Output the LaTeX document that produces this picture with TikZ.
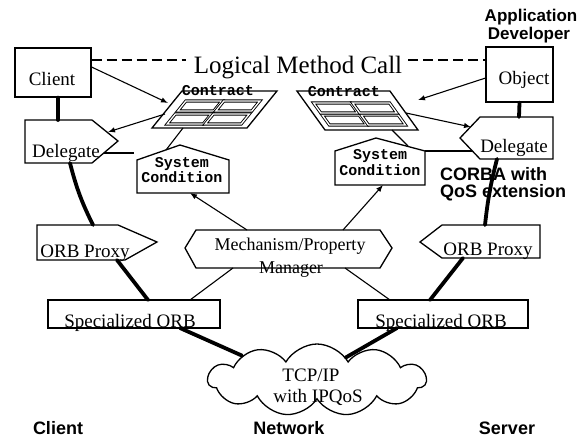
\documentclass[tikz,border=0pt]{standalone}
\usepackage{fontspec}
\setmainfont{Liberation Serif}
\newfontfamily\monof{Liberation Mono}
\newfontfamily\sansf{Liberation Sans}
\usetikzlibrary{shapes.symbols,arrows.meta}
\begin{document}
\begin{tikzpicture}[x=1pt,y=-1pt,
  shp/.style={draw=black, line width=1.3pt, line join=miter},
  conn/.style={line width=1.1pt},
  arr/.style={line width=1.1pt, -{Latex[length=7pt,width=5.5pt]}},
  spine/.style={line width=3.8pt, line cap=round},
  dsh/.style={line width=1.1pt, dash pattern=on 10pt off 5pt},
  serif/.style={inner sep=0pt, font=\fontsize{19}{19}\selectfont, text height=12.6pt, text depth=0pt},
  mmtext/.style={inner sep=0pt, font=\fontsize{18}{18}\selectfont, text height=12pt, text depth=0pt},
  mono/.style={inner sep=0pt, font=\monof\bfseries\fontsize{15}{15}\selectfont, text height=8.6pt, text depth=0pt},
  lab/.style={inner sep=0pt, font=\sansf\bfseries\fontsize{18}{18}\selectfont, text height=12.9pt, text depth=0pt},
  toplab/.style={inner sep=0pt, font=\sansf\bfseries\fontsize{17}{17}\selectfont, text height=12.2pt, text depth=0pt},
  cell/.style={draw=black, line width=0.9pt, double=white, double distance=1.3pt}
]
\useasboundingbox[fill=white] (0,0) rectangle (586,438);

% ---------- top labels
\node[toplab] (appl) at (531,15.5) {Application};
\node[toplab] (dev) at (529,33) {Developer};

% ---------- client / object
\node[shp, minimum width=76pt, minimum height=49pt, inner sep=0pt] (client) at (53,72.5) {};
\node[serif] (clientt) at (52,79) {Client};
\node[shp, minimum width=67pt, minimum height=55pt, inner sep=0pt] (object) at (519.5,74.5) {};
\node[serif] (objectt) at (524,78) {Object};

% ---------- logical method call
\node[inner sep=0pt, font=\fontsize{25}{25}\selectfont, text height=16.5pt, text depth=0pt] (lmc) at (298,65) {Logical Method Call};
\coordinate (dl) at (0,60);
\draw[dsh] (client.east |- dl) -- ([xshift=-8pt]lmc.west |- dl);
\draw[dsh] ([xshift=6pt]lmc.east |- dl) -- (object.west |- dl);

% ---------- delegates
\coordinate (dLa) at (25,120); \coordinate (dLb) at (92,120); \coordinate (dLc) at (118,141);
\coordinate (dLd) at (92,163);  \coordinate (dLe) at (25,163);
\draw[shp] (dLa) -- (dLb) -- (dLc) -- (dLd) -- (dLe) -- cycle;
\node[serif] (dLt) at (66,151) {Delegate};
\coordinate (dL-n) at (58,120); \coordinate (dL-s) at (70,163);
\coordinate (dL-e1) at (108,132); \coordinate (dL-e2) at (104,153);

\coordinate (dRa) at (460,138); \coordinate (dRb) at (480,117); \coordinate (dRc) at (553,117);
\coordinate (dRd) at (553,159); \coordinate (dRe) at (480,159);
\draw[shp] (dRa) -- (dRb) -- (dRc) -- (dRd) -- (dRe) -- cycle;
\node[serif] (dRt) at (514,146) {Delegate};
\coordinate (dR-n) at (519,117); \coordinate (dR-s) at (497,159);
\coordinate (dR-w1) at (471,127); \coordinate (dR-w2) at (472,151);

% ---------- ORB proxies
\coordinate (oLa) at (37,225); \coordinate (oLb) at (118,225); \coordinate (oLc) at (157,242);
\coordinate (oLd) at (125,260); \coordinate (oLe) at (37,260);
\draw[shp] (oLa) -- (oLb) -- (oLc) -- (oLd) -- (oLe) -- cycle;
\node[serif] (oLt) at (85,251) {ORB Proxy};
\coordinate (oL-n) at (93,225); \coordinate (oL-s) at (117,260);

\coordinate (oRa) at (420,242); \coordinate (oRb) at (442,225); \coordinate (oRc) at (540,225);
\coordinate (oRd) at (540,258); \coordinate (oRe) at (442,258);
\draw[shp] (oRa) -- (oRb) -- (oRc) -- (oRd) -- (oRe) -- cycle;
\node[serif] (oRt) at (488,249) {ORB Proxy};
\coordinate (oR-n) at (485,225); \coordinate (oR-s) at (463,258);

% ---------- mechanism / property manager
\coordinate (mA) at (185,248); \coordinate (mB) at (196,230); \coordinate (mC) at (380,230);
\coordinate (mD) at (392,248); \coordinate (mE) at (380,268); \coordinate (mF) at (196,268);
\draw[shp] (mA) -- (mB) -- (mC) -- (mD) -- (mE) -- (mF) -- cycle;
\node[mmtext] (mmt1) at (290,245) {Mechanism/Property};
\node[mmtext] (mmt2) at (291,267) {Manager};
\coordinate (mm-n1) at (247,230); \coordinate (mm-n2) at (343,230);
\coordinate (mm-s1) at (233,268); \coordinate (mm-s2) at (345,268);

% ---------- system conditions
\coordinate (sLa) at (137,193); \coordinate (sLb) at (137,160); \coordinate (sLc) at (180,145);
\coordinate (sLd) at (229,160); \coordinate (sLe) at (229,193);
\draw[shp] (sLa) -- (sLb) -- (sLc) -- (sLd) -- (sLe) -- cycle;
\node[mono] (sLt1) at (182,163) {System};
\node[mono] (sLt2) at (182,178) {Condition};
\coordinate (sL-r) at (166,150); \coordinate (sL-x) at (134,153); \coordinate (sL-s) at (190,193);

\coordinate (sRa) at (335,185); \coordinate (sRb) at (335,151); \coordinate (sRc) at (376,138);
\coordinate (sRd) at (425,151); \coordinate (sRe) at (425,185);
\draw[shp] (sRa) -- (sRb) -- (sRc) -- (sRd) -- (sRe) -- cycle;
\node[mono] (sRt1) at (380,155) {System};
\node[mono] (sRt2) at (380,171) {Condition};
\coordinate (sR-r) at (408,146); \coordinate (sR-s) at (383,185);

% ---------- contracts
\begin{scope}[shift={(152,128)}, xslant=0.81]
  \draw[shp] (0,0) rectangle (95,-37);
  \draw[cell] (12,-4) rectangle (48,-14);
  \draw[cell] (50,-4) rectangle (86,-14);
  \draw[cell] (12,-17) rectangle (48,-27);
  \draw[cell] (50,-17) rectangle (86,-27);
\end{scope}
\node[mono] (kLt) at (218,91.5) {Contract};
\coordinate (kL-w1) at (168,103); \coordinate (kL-w2) at (165,114); \coordinate (kL-s) at (183,128);

\begin{scope}[shift={(325,130)}, xslant=-0.72]
  \draw[shp] (0,0) rectangle (93,-39);
  \draw[cell] (8,-5) rectangle (45,-15);
  \draw[cell] (47,-5) rectangle (84,-15);
  \draw[cell] (8,-17) rectangle (45,-27);
  \draw[cell] (47,-17) rectangle (84,-27);
\end{scope}
\node[mono] (kRt) at (344,92) {Contract};
\coordinate (kR-e1) at (418,100); \coordinate (kR-e2) at (406,113); \coordinate (kR-s) at (392,130);

% ---------- specialized ORBs
\node[shp, minimum width=172pt, minimum height=28pt, inner sep=0pt] (soL) at (134,314) {};
\node[serif] (soLt) at (130,321.5) {Specialized ORB};
\node[shp, minimum width=170pt, minimum height=28pt, inner sep=0pt] (soR) at (443,314) {};
\node[serif] (soRt) at (441,321.5) {Specialized ORB};
\coordinate (soL-n) at (148,300); \coordinate (soL-n2) at (190,300); \coordinate (soL-s) at (180,328);
\coordinate (soR-n) at (430,300); \coordinate (soR-n2) at (390,300); \coordinate (soR-s) at (397,328);

% ---------- cloud
\node[cloud, shp, cloud puffs=11, cloud puff arc=120, aspect=2.9, minimum width=218pt, minimum height=72pt, inner sep=0pt] (net) at (317,380) {};
\node[serif] (tcp) at (311,375) {TCP/IP};
\node[serif] (ipq) at (318,396) {with IPQoS};

% ---------- side labels
\node[lab, anchor=west] (corba1) at (440,174) {CORBA with};
\node[lab, anchor=west] (corba2) at (440,191) {QoS extension};
\node[lab] (lc) at (58,428) {Client};
\node[lab] (ln) at (289,428) {Network};
\node[lab] (ls) at (507,428) {Server};

% ---------- spine (thick)
\draw[spine] ([xshift=5pt]client.south) -- (dL-n);
\draw[spine] (dL-s) to[bend right=6] (oL-n);
\draw[spine] (oL-s) -- (soL-n);
\draw[spine] (soL-s) -- (net.162);
\draw[spine] (object.south) -- (dR-n);
\draw[spine] (dR-s) to[bend right=4] (oR-n);
\draw[spine] (oR-s) -- (soR-n);
\draw[spine] (soR-s) -- (net.38);

% ---------- thin connectors
\draw[arr] (client.8) -- (kL-w1);
\draw[arr] (kL-w2) -- (dL-e1);
\draw[arr] (object.186) -- (kR-e1);
\draw[arr] (kR-e2) -- (dR-w1);
\draw[conn] (kL-s) -- (sL-r);
\draw[conn] (kR-s) -- (sR-r);
\draw[conn] (dL-e2) -- (sL-x);
\draw[conn] (sRd) -- (dR-w2);
\draw[arr] (mm-n1) -- (sL-s);
\draw[arr] (mm-n2) -- (sR-s);
\draw[conn] (mm-s1) -- (soL-n2);
\draw[conn] (mm-s2) -- (soR-n2);
\end{tikzpicture}
\end{document}
